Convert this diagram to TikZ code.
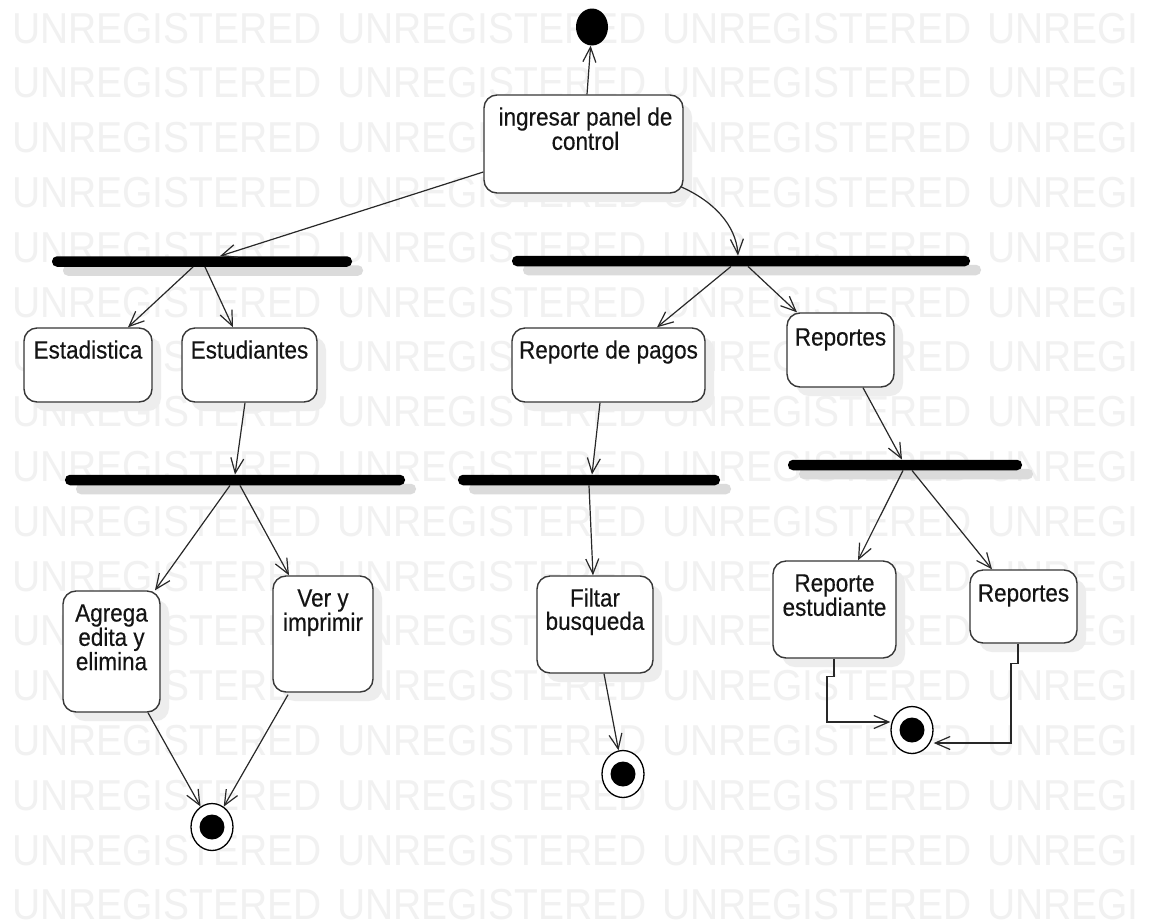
\documentclass[tikz,border=0pt]{standalone}
\usepackage{fontspec}
\setmainfont{Liberation Sans}[FakeStretch=0.9]
\newfontfamily\actfont{Liberation Sans}[FakeStretch=0.9,FakeBold=0.35]
\usetikzlibrary{arrows.meta,shapes.geometric,shadows}

\definecolor{wmark}{RGB}{241,241,241}
\definecolor{edge}{RGB}{40,40,40}
\definecolor{frame}{RGB}{55,55,55}
\definecolor{ink}{RGB}{20,20,20}

% raises the first line of every activity label to a common height
\newcommand\capstrut{\rule{0pt}{19pt}}

\tikzset{
  activity/.style={draw=frame, line width=1.4pt, rounded corners=13pt, fill=white,
    inner sep=0pt, general shadow={fill=black!7, shadow xshift=9pt, shadow yshift=-9pt}},
  forkbar/.style={fill=black, rounded corners=5pt, inner sep=0pt, minimum height=10.5pt,
    general shadow={fill=black!14, shadow xshift=11pt, shadow yshift=-9pt}},
  acttext/.style={anchor=north, inner sep=0pt, align=center, text=ink,
    font=\actfont\fontsize{25pt}{23.3pt}\selectfont},
  flow/.style={draw=edge, line width=1.2pt,
    -{Straight Barb[length=15pt,width=13pt,line width=1.2pt]}},
  startnode/.style={ellipse, fill=black, minimum width=32pt, minimum height=37pt, inner sep=0pt},
  endnode/.style={ellipse, draw=black, line width=1.3pt, fill=white, minimum width=42pt,
    minimum height=47pt, inner sep=0pt,
    path picture={\fill[black] (path picture bounding box.center) circle[radius=12.5pt];}},
  watermark/.style={anchor=base west, inner sep=0pt, text=wmark,
    font=\fontsize{43.3pt}{43.3pt}\selectfont}
}

\begin{document}
\begin{tikzpicture}[x=1pt,y=-1pt]
\useasboundingbox (0,0) rectangle (1151,922);
\fill[white] (0,0) rectangle (1151,922);

% background watermark rows
\foreach \r in {0,...,16}{
  \foreach \c in {0,1,2}{
    \node[watermark] (wm-\r-\c) at (12+325*\c, 43+54.8*\r) {UNREGISTERED};
  }
  \node[watermark] (wm-\r-3) at (987, 43+54.8*\r) {UNREGI};
}

% initial and final states
\node[startnode] (init) at (592,27) {};
\node[endnode] (fin1) at (212,827) {};
\node[endnode] (fin2) at (623,774) {};
\node[endnode] (fin3) at (912,730) {};

% fork bars
\node[forkbar, minimum width=300pt] (bar1) at (202,261.5) {};
\node[forkbar, minimum width=458pt] (bar2) at (741,261) {};
\node[forkbar, minimum width=340pt] (bar3) at (235,480) {};
\node[forkbar, minimum width=262pt] (bar4) at (589,480) {};
\node[forkbar, minimum width=234pt] (bar5) at (905,465) {};

% activities
\node[activity, minimum width=199pt, minimum height=98pt]  (ing)    at (583.5,144) {};
\node[activity, minimum width=128pt, minimum height=74pt]  (estad)  at (88,365) {};
\node[activity, minimum width=135pt, minimum height=74pt]  (estud)  at (249.5,365) {};
\node[activity, minimum width=193pt, minimum height=74pt]  (pagos)  at (608.5,365) {};
\node[activity, minimum width=107pt, minimum height=74pt]  (rep1)   at (840.5,350) {};
\node[activity, minimum width=97pt,  minimum height=121pt] (agrega) at (111.5,651.5) {};
\node[activity, minimum width=100pt, minimum height=116pt] (ver)    at (323,634) {};
\node[activity, minimum width=116pt, minimum height=97pt]  (filtar) at (595,624.5) {};
\node[activity, minimum width=123pt, minimum height=97pt]  (repest) at (834.5,609.5) {};
\node[activity, minimum width=107pt, minimum height=73pt]  (rep2)   at (1023.5,606.5) {};

% activity labels
\node[acttext] (ing-t)    at ([xshift=2pt,yshift=-12pt]ing.north) {\capstrut ingresar panel de\\control};
\node[acttext] (estad-t)  at ([yshift=-12pt]estad.north)  {\capstrut Estadistica};
\node[acttext] (estud-t)  at ([yshift=-12pt]estud.north)  {\capstrut Estudiantes};
\node[acttext] (pagos-t)  at ([yshift=-12pt]pagos.north)  {\capstrut Reporte de pagos};
\node[acttext] (rep1-t)   at ([yshift=-14pt]rep1.north)   {\capstrut Reportes};
\node[acttext] (agrega-t) at ([yshift=-12pt]agrega.north) {\capstrut Agrega\\edita y\\elimina};
\node[acttext] (ver-t)    at ([yshift=-12pt]ver.north)    {\capstrut Ver y\\imprimir};
\node[acttext] (filtar-t) at ([yshift=-12pt]filtar.north) {\capstrut Filtar\\busqueda};
\node[acttext] (repest-t) at ([yshift=-12pt]repest.north) {\capstrut Reporte\\estudiante};
\node[acttext] (rep2-t)   at ([yshift=-13pt]rep2.north)   {\capstrut Reportes};

% control flows
\draw[flow] ([xshift=3.5pt]ing.north) -- (init);
\draw[flow] ([yshift=-28pt]ing.west) -- ([xshift=18pt]bar1.north);
\draw[flow] ([xshift=-3pt,yshift=7pt]ing.south east)
  .. controls ([xshift=29pt,yshift=-7pt]ing.south east) and ([xshift=-5pt,yshift=31pt]bar2.north)
  .. ([xshift=-3pt]bar2.north);

\draw[flow] ([xshift=-9pt]bar1.south) -- ([xshift=40pt]estad.north);
\draw[flow] ([xshift=3pt]bar1.south) -- ([xshift=-16.5pt]estud.north);
\draw[flow] ([xshift=-10pt]bar2.south) -- ([xshift=48.5pt]pagos.north);
\draw[flow] ([xshift=7pt]bar2.south) -- ([xshift=-43.5pt]rep1.north);

\draw[flow] ([xshift=-4.5pt]estud.south) -- (bar3.north);
\draw[flow] ([xshift=-8.5pt]pagos.south) -- ([xshift=3pt]bar4.north);
\draw[flow] ([xshift=22.5pt]rep1.south) -- ([xshift=-3pt]bar5.north);

\draw[flow] ([xshift=-5pt]bar3.south) -- ([xshift=43.5pt]agrega.north);
\draw[flow] ([xshift=5pt]bar3.south) -- ([xshift=-34pt]ver.north);
\draw[flow] (bar4.south) -- ([xshift=-2pt]filtar.north);
\draw[flow] ([xshift=-2pt]bar5.south) -- ([xshift=23.5pt]repest.north);
\draw[flow] ([xshift=7pt]bar5.south) -- ([xshift=-31.5pt]rep2.north);

\draw[flow] ([xshift=36.5pt]agrega.south) -- (fin1);
\draw[flow] ([xshift=-35pt,yshift=-2pt]ver.south) -- (fin1);
\draw[flow] ([xshift=9pt]filtar.south) -- (fin2);
\draw[flow] ([xshift=-0.5pt]repest.south) -- ++(0,18) -- ++(-7,0) |- ([yshift=8pt]fin3.west);
\draw[flow] ([xshift=-5.5pt]rep2.south) -- ++(0,20) -- ++(-7,0) |- ([yshift=-13pt]fin3.east);
\end{tikzpicture}
\end{document}
